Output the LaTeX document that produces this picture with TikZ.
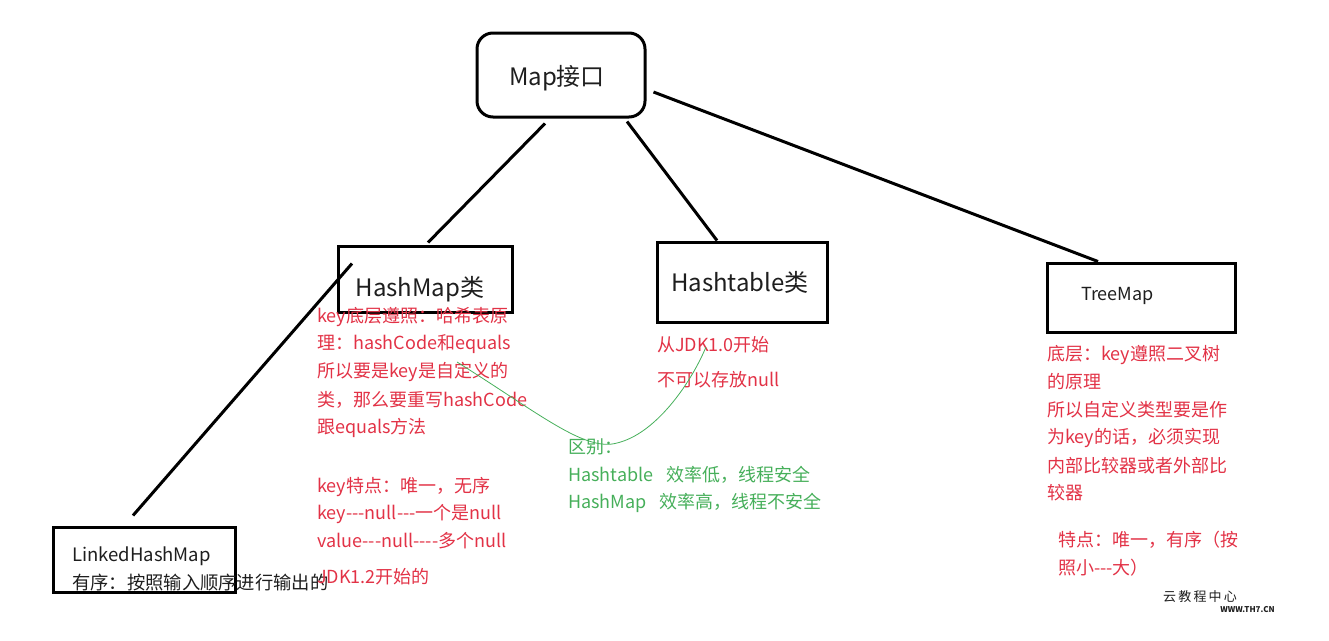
\documentclass[tikz,border=0pt]{standalone}
\usepackage{fontspec}
\setmainfont{Noto Sans CJK SC}
\definecolor{redtxt}{RGB}{226,50,70}
\definecolor{greentxt}{RGB}{70,175,90}
\definecolor{darktxt}{RGB}{30,30,30}
\tikzset{
  box/.style={draw=black, line width=3pt, inner sep=0pt},
  lbl/.style={inner sep=0pt, text=darktxt},
  conn/.style={draw=black, line width=3pt},
  rtxt/.style={inner sep=0pt, anchor=west, text=redtxt, font=\fontsize{18}{20}\selectfont},
  gtxt/.style={inner sep=0pt, anchor=west, text=greentxt, font=\fontsize{18}{20}\selectfont},
}
\begin{document}
\begin{tikzpicture}[x=1pt,y=-1pt]
\useasboundingbox (0,0) rectangle (1329,640);
% boxes
\node[box, rounded corners=16pt, minimum width=168pt, minimum height=84pt] (map) at (561,75) {};
\node[lbl, font=\fontsize{24}{28}\selectfont] (maplbl) at (557,78) {Map接口};
\node[box, minimum width=174pt, minimum height=66pt] (hm) at (425,279) {};
\node[lbl, font=\fontsize{24}{28}\selectfont] (hmlbl) at (420,289) {HashMap类};
\node[box, minimum width=170pt, minimum height=80pt] (ht) at (742,282) {};
\node[lbl, font=\fontsize{24}{28}\selectfont] (htlbl) at (740,282) {Hashtable类};
\node[box, minimum width=188pt, minimum height=69pt] (tm) at (1141,297.5) {};
\node[lbl, anchor=west, font=\fontsize{18}{22}\selectfont] (tmlbl) at (1081,296) {TreeMap};
\node[box, minimum width=182pt, minimum height=65pt] (lhm) at (144,559.5) {};
\node[lbl, anchor=west, font=\fontsize{18.5}{22}\selectfont] (lhmlbl) at (72,556) {LinkedHashMap};
\node[lbl, anchor=west, font=\fontsize{18.3}{22}\selectfont] (lhmtxt) at (72,583) {有序：按照输入顺序进行输出的};
% connectors
\draw[conn] ([xshift=-16pt,yshift=-5pt]map.south) -- ([xshift=3pt,yshift=2pt]hm.north);
\draw[conn] ([xshift=66pt,yshift=-3pt]map.south) -- ([xshift=-25pt]ht.north);
\draw[conn] ([xshift=7pt,yshift=-17pt]map.east) -- ([xshift=-43pt]tm.north);
\draw[conn] ([xshift=-73pt,yshift=-19pt]hm.north) -- ([xshift=-11pt,yshift=10pt]lhm.north);
% HashMap text
\node[rtxt] (h1) at (317,317) {key底层遵照：哈希表原};
\node[rtxt] (h2) at (317,344) {理：hashCode和equals};
\node[rtxt] (h3) at (317,372) {所以要是key是自定义的};
\node[rtxt] (h4) at (317,400) {类，那么要重写hashCode};
\node[rtxt] (h5) at (317,428) {跟equals方法};
\node[rtxt] (h6) at (317,487) {key特点：唯一，无序};
\node[rtxt] (h7) at (317,514) {key-{}-{}-null-{}-{}-一个是null};
\node[rtxt] (h8) at (317,541) {value-{}-{}-null-{}-{}-{}-多个null};
\node[rtxt] (h9) at (317,577) {JDK1.2开始的};
% Hashtable text
\node[rtxt] (t1) at (657,345) {从JDK1.0开始};
\node[rtxt] (t2) at (657,380) {不可以存放null};
% green
\node[gtxt] (g1) at (568,447) {区别：};
\node[gtxt] (g2) at (568,475) {Hashtable\hspace{13pt}效率低，线程安全};
\node[gtxt] (g3) at (568,503) {HashMap\hspace{13pt}效率高，线程不安全};
\coordinate (gs) at (457,362);
\coordinate (ge) at (706,347);
\draw[greentxt, line width=0.8pt] (gs)
  .. controls (540,414) and (585,452) .. (617,443)
  .. controls (655,434) and (690,385) .. (ge);
% TreeMap text
\node[rtxt] (r1) at (1047,355) {底层：key遵照二叉树};
\node[rtxt] (r2) at (1047,382) {的原理};
\node[rtxt] (r3) at (1047,410) {所以自定义类型要是作};
\node[rtxt] (r4) at (1047,438) {为key的话，必须实现};
\node[rtxt] (r5) at (1047,466) {内部比较器或者外部比};
\node[rtxt] (r6) at (1047,493) {较器};
\node[rtxt] (r7) at (1058,540) {特点：唯一，有序（按};
\node[rtxt] (r8) at (1058,568) {照小-{}-{}-大）};
% watermark
\node[lbl, anchor=west, font=\fontsize{13}{15}\selectfont] (wm1) at (1163,597) {云\,教\,程\,中\,心};
\node[lbl, anchor=east, font=\bfseries\fontsize{8}{10}\selectfont] (wm2) at (1275,610) {WWW.TH7.CN};
\end{tikzpicture}
\end{document}
